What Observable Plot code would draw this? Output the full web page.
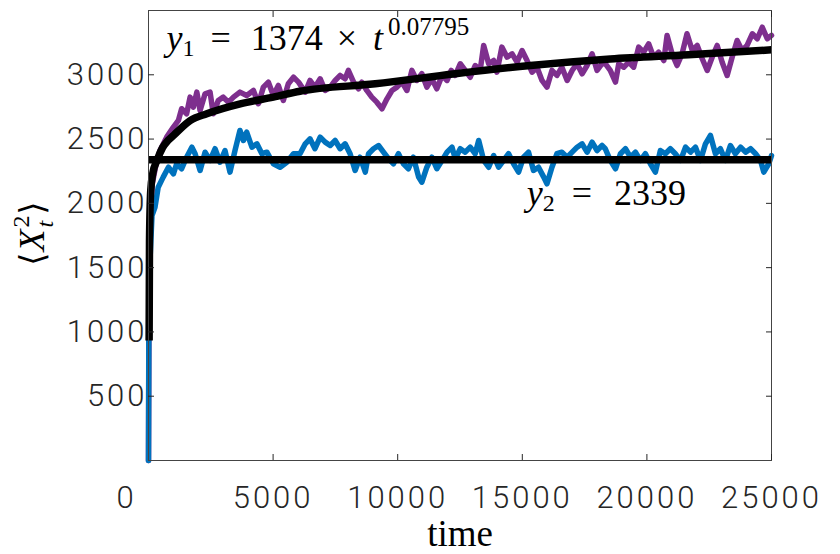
<!DOCTYPE html>
<html><head><meta charset="utf-8">
<script src="https://cdn.jsdelivr.net/npm/d3@7"></script>
<script src="https://cdn.jsdelivr.net/npm/@observablehq/plot@0.6"></script>
<style>
body{margin:0;background:#fff;}
g[aria-label$="tick label"] text{letter-spacing:3px;}
</style>
</head><body><div id="chart"></div>
<script>
// ---- data ----
const xTicks = [5000, 10000, 15000, 20000, 25000];
const yTicks = [500, 1000, 1500, 2000, 2500, 3000];

const purpleTime = [0, 15, 50, 150, 300, 460, 730, 1000, 1200, 1330,
  1530, 1670, 1800, 1940, 2070, 2270, 2470, 2600, 2800, 3000,
  3210, 3410, 3670, 3940, 4210, 4410, 4610, 4810, 5010, 5210,
  5410, 5610, 5820, 6020, 6290, 6480, 6680, 6890, 7090, 7290,
  7490, 7690, 7890, 8020, 8230, 8430, 8560, 8760, 8960, 9160,
  9370, 9570, 9770, 9970, 10170, 10370, 10570, 10770, 10970, 11170,
  11370, 11570, 11780, 11980, 12150, 12310, 12510, 12710, 12910, 13110,
  13310, 13450, 13650, 13850, 13980, 14180, 14390, 14590, 14790, 14990,
  15190, 15390, 15590, 15790, 15990, 16190, 16390, 16590, 16800, 17000,
  17200, 17400, 17600, 17800, 18000, 18200, 18330, 18530, 18740, 18870,
  19070, 19270, 19470, 19670, 19870, 20070, 20270, 20470, 20680, 20810,
  21010, 21210, 21410, 21610, 21820, 22020, 22220, 22420, 22620, 22820,
  23020, 23220, 23420, 23620, 23820, 24020, 24230, 24430, 24630, 24830,
  25000];
const purpleVals = [0, 950, 1750, 2150, 2300, 2411, 2515, 2593, 2645, 2736,
  2697, 2826, 2748, 2865, 2722, 2852, 2865, 2697, 2800, 2826,
  2787, 2826, 2865, 2839, 2878, 2775, 2904, 2943, 2839, 2917,
  2800, 2930, 2981, 2943, 2865, 2956, 2904, 2969, 2878, 2904,
  2956, 2995, 2969, 3034, 2943, 2891, 2943, 2878, 2826, 2787,
  2736, 2813, 2878, 2904, 2943, 2878, 3034, 2956, 3008, 2904,
  2969, 2891, 2995, 2956, 3034, 2995, 3086, 3034, 2981, 3072,
  3034, 3228, 3086, 3111, 3020, 3215, 3137, 3163, 3098, 3189,
  3111, 3020, 3059, 2956, 2904, 3034, 2995, 3059, 2956, 3034,
  3086, 3008, 3072, 3163, 3034, 3086, 3086, 3034, 2943, 3086,
  3059, 3098, 3059, 3215, 3176, 3241, 3137, 3176, 3111, 3306,
  3163, 3072, 3163, 3319, 3189, 3228, 3125, 3034, 3137, 3228,
  3098, 2995, 3137, 3267, 3189, 3228, 3319, 3280, 3370, 3280,
  3306];

const blueTime = [0, 12, 60, 140, 260, 390, 590, 800, 1000, 1130,
  1330, 1530, 1740, 1870, 2070, 2270, 2470, 2670, 2870, 3070,
  3270, 3470, 3670, 3810, 3940, 4150, 4350, 4550, 4750, 5010,
  5280, 5550, 5820, 6080, 6290, 6480, 6680, 6890, 7090, 7290,
  7490, 7690, 7890, 8090, 8290, 8490, 8700, 8830, 9030, 9230,
  9430, 9630, 9830, 10030, 10230, 10430, 10630, 10840, 10970, 11170,
  11370, 11570, 11780, 11980, 12180, 12310, 12510, 12710, 12910, 13110,
  13250, 13450, 13650, 13850, 14050, 14250, 14450, 14650, 14850, 15050,
  15250, 15450, 15650, 15860, 15990, 16190, 16390, 16590, 16800, 17000,
  17200, 17400, 17600, 17800, 18000, 18200, 18330, 18530, 18740, 18940,
  19140, 19340, 19540, 19740, 19940, 20140, 20340, 20540, 20740, 20940,
  21140, 21350, 21550, 21750, 21950, 22150, 22350, 22550, 22750, 22950,
  23150, 23350, 23550, 23760, 23960, 24160, 24360, 24560, 24690, 24890,
  25000];
const blueVals = [0, 933, 1555, 1905, 1970, 2126, 2204, 2281, 2230, 2308,
  2269, 2359, 2437, 2386, 2256, 2398, 2334, 2425, 2320, 2411,
  2243, 2411, 2567, 2489, 2554, 2437, 2463, 2386, 2398, 2308,
  2281, 2320, 2386, 2386, 2463, 2502, 2425, 2515, 2476, 2450,
  2489, 2425, 2463, 2386, 2256, 2359, 2243, 2386, 2425, 2450,
  2398, 2347, 2308, 2386, 2308, 2269, 2359, 2204, 2165, 2281,
  2359, 2269, 2334, 2398, 2437, 2347, 2425, 2398, 2437, 2386,
  2489, 2334, 2281, 2372, 2281, 2334, 2386, 2308, 2243, 2359,
  2398, 2256, 2281, 2204, 2152, 2281, 2386, 2398, 2359, 2398,
  2437, 2463, 2398, 2476, 2411, 2450, 2425, 2334, 2269, 2386,
  2425, 2359, 2398, 2334, 2386, 2308, 2243, 2411, 2386, 2425,
  2386, 2334, 2437, 2398, 2437, 2334, 2463, 2528, 2386, 2425,
  2334, 2450, 2386, 2437, 2398, 2425, 2386, 2334, 2243, 2308,
  2372];

const fitTime = [25, 40, 90, 170, 340, 570, 780, 1000, 1670, 2340, 3680, 5010, 6080, 9100, 12310, 15320, 18530, 21670, 25000];
const fitVals = [933, 1711, 2100, 2232, 2333, 2435, 2489, 2528, 2644, 2697, 2774, 2826, 2872, 2930, 3008, 3072, 3123, 3156, 3194];

const plateau = 2339;
const fitLabel = "y1 = 1374 × t^0.07795";
const plateauLabel = "y2 = 2339";
const yLabel = "<X_t^2>";
const xLabel = "time";

// ---- tables ----
const purple = purpleTime.map((t, i) => ({t, v: purpleVals[i]}));
const blue = blueTime.map((t, i) => ({t, v: blueVals[i]}));
const fit = fitTime.map((t, i) => ({t, v: fitVals[i]}));

const fmt = d => String(d);
const tickFont = {fontFamily: "Roboto, 'Open Sans', sans-serif", fontWeight: 300, fontSize: 31, fill: "#262626", tickFormat: fmt};
const serif = "'Liberation Serif', 'DejaVu Serif', serif";
const tickStyle = {tickSize: 6, fill: null, label: null, stroke: "#262626", tickFormat: fmt};

const svg = Plot.plot({
  width: 840, height: 554,
  marginLeft: 148, marginRight: 69, marginTop: 10, marginBottom: 94,
  style: {background: "white", overflow: "visible"},
  x: {domain: [0, 25000]},
  y: {domain: [0, 3500]},
  marks: [
    Plot.line(purple, {x: "t", y: "v", stroke: "#7E2F8E", strokeWidth: 5.5, strokeLinejoin: "round", strokeLinecap: "round"}),
    Plot.line(blue, {x: "t", y: "v", stroke: "#0072BD", strokeWidth: 5.5, strokeLinejoin: "round", strokeLinecap: "round"}),
    Plot.ruleY([plateau], {x1: 0, x2: 25000, stroke: "black", strokeWidth: 7.5}),
    Plot.line(fit, {x: "t", y: "v", stroke: "black", strokeWidth: 7.5, curve: "monotone-x", strokeLinecap: "butt"}),
    Plot.frame({stroke: "#444", strokeWidth: 1}),
    // inward ticks (shifted inside the frame)
    Plot.axisX(xTicks, {anchor: "bottom", dy: -6, ...tickStyle}),
    Plot.axisX(xTicks, {anchor: "top", dy: 6, ...tickStyle}),
    Plot.axisY(yTicks, {anchor: "left", dx: 6, ...tickStyle}),
    Plot.axisY(yTicks, {anchor: "right", dx: -6, ...tickStyle}),
    // tick labels
    Plot.axisX(xTicks, {anchor: "bottom", tickSize: 0, stroke: null, tickPadding: 25, label: null, ...tickFont}),
    Plot.axisX([0], {anchor: "bottom", tickSize: 0, stroke: null, tickPadding: 25, dx: -22, label: null, ...tickFont}),
    Plot.axisY(yTicks, {anchor: "left", tickSize: 0, stroke: null, tickPadding: 1, label: null, ...tickFont}),
    // annotations
    Plot.text([fitLabel], {x: 720, y: 3190, text: d => d, textAnchor: "start", lineAnchor: "bottom", fontSize: 36, fontFamily: serif, fill: "black"}),
    Plot.text([plateauLabel], {x: 15180, y: 1985, text: d => d, textAnchor: "start", lineAnchor: "bottom", fontSize: 36, fontFamily: serif, fill: "black"}),
    Plot.text([xLabel], {x: 12500, frameAnchor: "bottom", dy: 85, text: d => d, lineAnchor: "bottom", fontSize: 37, fontFamily: serif, fill: "black"}),
    Plot.text([yLabel], {frameAnchor: "left", y: 1765, dx: -105, rotate: -90, text: d => d, textAnchor: "middle", lineAnchor: "bottom", fontSize: 36, fontFamily: serif, fill: "black"})
  ]
});
document.getElementById("chart").append(svg);

// ---- rich math text (sub/superscripts) ----
function rich(content, parts) {
  d3.select(svg).selectAll("text").filter(function() { return this.textContent === content; }).each(function() {
    const sel = d3.select(this);
    sel.text(null);
    for (const p of parts) {
      const ts = sel.append("tspan").text(p.s);
      if (p.italic) ts.attr("font-style", "italic");
      if (p.size) ts.attr("font-size", p.size);
      if (p.dx != null) ts.attr("dx", p.dx);
      if (p.dy != null) ts.attr("dy", p.dy);
      if (p.family) ts.attr("font-family", p.family);
    }
  });
}
rich(fitLabel, [
  {s: "y", italic: true},
  {s: "1", size: 24, dy: 6},
  {s: "=", dx: 16, dy: -6},
  {s: "1374", dx: 20},
  {s: "×", dx: 14},
  {s: "t", italic: true, dx: 16},
  {s: "0.07795", size: 25, dx: 5, dy: -15}
]);
rich(plateauLabel, [
  {s: "y", italic: true},
  {s: "2", size: 24, dy: 6},
  {s: "=", dx: 17, dy: -6},
  {s: "2339", dx: 22}
]);
rich(yLabel, [
  {s: "⟨", family: "'DejaVu Serif', serif", size: 34},
  {s: "X", italic: true, dx: 1},
  {s: "2", size: 24, dx: 2, dy: -15},
  {s: "t", italic: true, size: 24, dx: -12, dy: 24},
  {s: "⟩", family: "'DejaVu Serif', serif", size: 34, dx: 6, dy: -9}
]);
</script>
</body></html>
